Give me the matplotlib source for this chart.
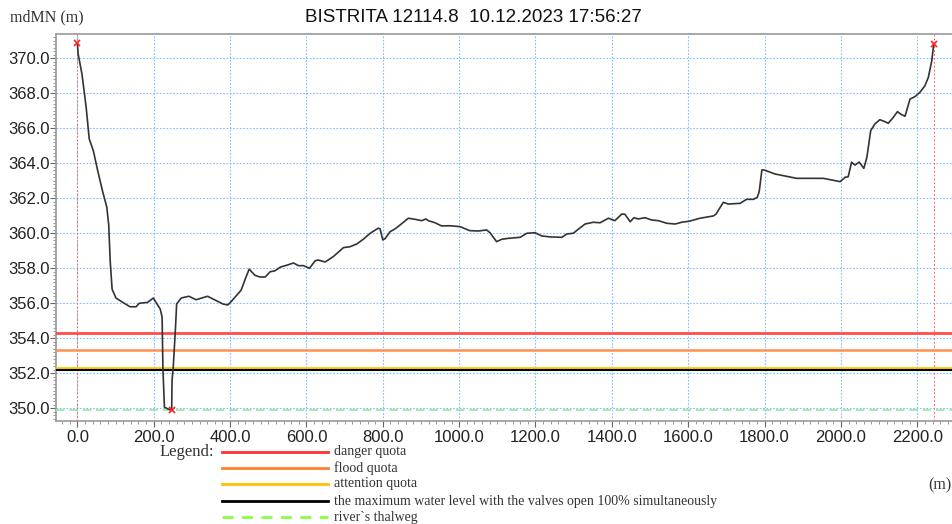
import matplotlib
matplotlib.use("Agg")
import matplotlib.pyplot as plt
from matplotlib.lines import Line2D
from matplotlib.ticker import MultipleLocator

# river cross-section profile (distance m, elevation mdMN)
dist = [0, 2, 12, 23, 31, 42, 53, 66, 77, 82, 86, 91, 101, 119, 138, 154, 162, 184,
        199, 206, 217, 222, 224, 228, 237, 247, 248, 251, 257, 260, 272, 292, 311,
        341, 359, 381, 394, 403, 429, 440, 450, 465, 478, 492, 505, 518, 531, 548,
        566, 579, 592, 608, 623, 631, 649, 670, 697, 714, 732, 749, 767, 788, 793,
        800, 806, 819, 832, 845, 867, 884, 902, 913, 919, 937, 954, 976, 1002,
        1028, 1050, 1072, 1081, 1098, 1112, 1129, 1160, 1177, 1199, 1216, 1238,
        1269, 1282, 1299, 1312, 1330, 1352, 1369, 1391, 1408, 1426, 1434, 1448,
        1458, 1469, 1487, 1504, 1522, 1544, 1566, 1583, 1603, 1631, 1666, 1673,
        1692, 1705, 1736, 1753, 1771, 1781, 1786, 1793, 1799, 1827, 1884, 1954,
        1998, 2011, 2019, 2028, 2037, 2048, 2060, 2068, 2078, 2089, 2102, 2113,
        2124, 2136, 2148, 2159, 2168, 2181, 2194, 2207, 2220, 2229, 2238, 2243]
elev = [370.86, 370.25, 369.1, 367.2, 365.4, 364.7, 363.6, 362.4, 361.5, 360.5,
        358.4, 356.8, 356.3, 356.05, 355.8, 355.8, 356.0, 356.05, 356.3, 356.05,
        355.67, 355.2, 352.3, 350.06, 349.96, 349.9, 351.6, 352.3, 354.6, 355.96,
        356.3, 356.4, 356.2, 356.4, 356.2, 355.96, 355.9, 356.1, 356.75, 357.4,
        357.95, 357.6, 357.5, 357.5, 357.8, 357.86, 358.06, 358.17, 358.3, 358.15,
        358.15, 358.0, 358.43, 358.47, 358.36, 358.66, 359.18, 359.23, 359.39,
        359.66, 360.0, 360.29, 360.25, 359.62, 359.69, 360.09, 360.25, 360.47,
        360.86, 360.8, 360.72, 360.82, 360.72, 360.6, 360.42, 360.43, 360.38,
        360.15, 360.13, 360.19, 360.03, 359.52, 359.66, 359.71, 359.77, 360.0,
        360.03, 359.85, 359.79, 359.77, 359.96, 360.0, 360.23, 360.53, 360.63,
        360.6, 360.86, 360.72, 361.1, 361.09, 360.66, 360.89, 360.82, 360.89,
        360.76, 360.72, 360.57, 360.53, 360.63, 360.69, 360.86, 360.99, 361.1,
        361.77, 361.67, 361.71, 361.94, 361.94, 362.06, 362.38, 363.62, 363.62,
        363.39, 363.14, 363.14, 362.95, 363.2, 363.23, 364.06, 363.9, 364.07,
        363.71, 364.34, 365.86, 366.25, 366.49, 366.4, 366.29, 366.59, 366.95,
        366.78, 366.69, 367.67, 367.81, 368.06, 368.43, 368.91, 369.86, 370.78]

# marked points (banks and lowest point)
mark_x = [0, 247, 2243]
mark_y = [370.86, 349.9, 370.8]

# reference levels
danger_q = 354.32
flood_q = 353.31
attention_q = 352.31
max_level = 352.21
thalweg = 349.9

W, H = 952, 524
fig = plt.figure(figsize=(W / 100, H / 100), dpi=100)
ax = fig.add_axes([56 / W, 1 - 421 / H, (W - 56) / W, (421 - 34) / H])

ax.plot(dist, elev, color="#333333", lw=1.2, zorder=5)
ax.axhline(danger_q, color="#ff4d4d", lw=2.0, zorder=3)
ax.axhline(flood_q, color="#ff9050", lw=1.8, zorder=3)
ax.axhline(attention_q, color="#ffcc00", lw=2.0, zorder=3)
ax.axhline(max_level, color="black", lw=1.5, zorder=4)
ax.axhline(thalweg, color="#98e898", lw=1.2, ls=(0, (5, 3)), zorder=3)
ax.axvline(mark_x[0], color="#ff6666", lw=0.7, ls=(0, (2, 2)), zorder=2)
ax.axvline(mark_x[2], color="#ff6666", lw=0.7, ls=(0, (2, 2)), zorder=2)
ax.plot(mark_x, mark_y, "x", color="#ff2020", ms=5, mew=1.2, zorder=6)

ax.set_xlim(-56, 2291)
ax.set_ylim(349.27, 371.39)
ax.xaxis.set_major_locator(MultipleLocator(200))
ax.xaxis.set_minor_locator(MultipleLocator(20))
ax.yaxis.set_major_locator(MultipleLocator(2))
ax.yaxis.set_minor_locator(MultipleLocator(0.2))
ax.xaxis.set_major_formatter(lambda v, p: f"{v:.1f}")
ax.yaxis.set_major_formatter(lambda v, p: f"{v:.1f}")
ax.grid(True, which="major", color="#80bfff", ls=(0, (1.5, 1.5)), lw=0.8)
ax.tick_params(which="major", length=4, color="#666666", labelsize=12,
               labelcolor="#222222")
ax.tick_params(axis="y", which="major", pad=0.5)
ax.tick_params(axis="x", which="major", pad=2.5)
ax.tick_params(which="minor", length=2.5, color="#888888")
for lab in ax.get_xticklabels() + ax.get_yticklabels():
    lab.set_family("Liberation Sans")
ax.spines["right"].set_visible(False)
for s in ["left", "top", "bottom"]:
    ax.spines[s].set_color("#999999")
    ax.spines[s].set_linewidth(1.2)

fig.text(0.497, 1 - 18 / H, "BISTRITA 12114.8  10.12.2023 17:56:27",
         ha="center", va="center", fontsize=13.5, family="Liberation Sans",
         color="#111111")
fig.text(10 / W, 1 - 17 / H, "mdMN (m)", ha="left", va="center",
         fontsize=11.5, family="Liberation Serif", color="#333333")
fig.text(928 / W, 1 - 485 / H, "(m)", ha="left", va="center",
         fontsize=11.5, family="Liberation Serif", color="#333333")

# legend drawn beneath the axes
fig.text(160 / W, 1 - 452 / H, "Legend:", ha="left", va="center",
         fontsize=12, family="Liberation Serif", color="#333333")
leg = [("danger quota", "#ff3030", "-", 452),
       ("flood quota", "#ff8030", "-", 468),
       ("attention quota", "#ffc000", "-", 484),
       ("the maximum water level with the valves open 100% simultaneously",
        "black", "-", 501),
       ("river`s thalweg", "#88ff44", (0, (4, 3)), 517)]
for txt, col, ls, py in leg:
    fy = 1 - py / H
    fig.add_artist(Line2D([222 / W, 328 / W], [fy, fy], color=col, lw=2,
                          ls=ls, transform=fig.transFigure))
    fig.text(334 / W, fy, txt, ha="left", va="center", fontsize=10,
             family="Liberation Serif", color="#333333")

fig.savefig("out.png", dpi=100)
